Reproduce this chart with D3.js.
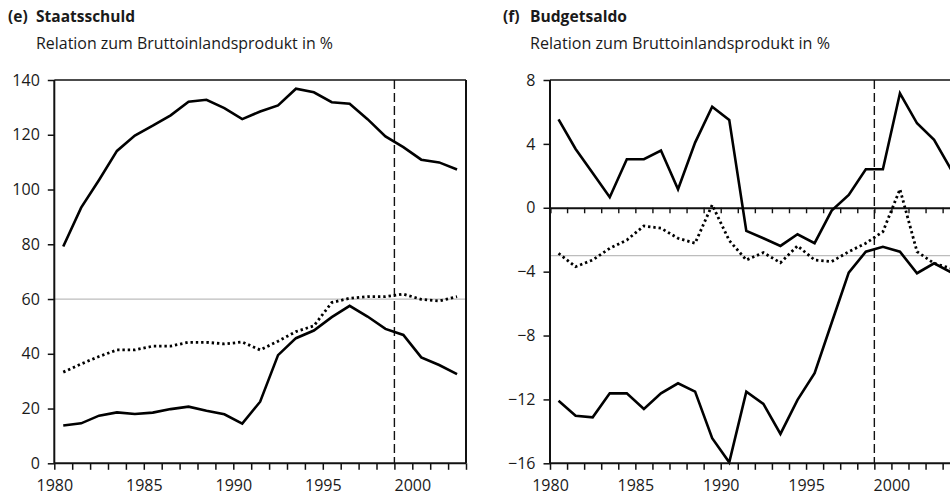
<!DOCTYPE html>
<html><head><meta charset="utf-8">
<script src="https://cdn.jsdelivr.net/npm/d3@7"></script>
<style>
html,body{margin:0;padding:0;background:#fff;}
svg{display:block;}
text{font-family:"Open Sans",sans-serif;fill:#1a1a1a;}
</style></head>
<body>
<svg id="c" width="950" height="502"></svg>
<script>
// ---------- data ----------
const yearsL = [1980,1981,1982,1983,1984,1985,1986,1987,1988,1989,1990,1991,1992,1993,1994,1995,1996,1997,1998,1999,2000,2001,2002];
const yearsR = [1980,1981,1982,1983,1984,1985,1986,1987,1988,1989,1990,1991,1992,1993,1994,1995,1996,1997,1998,1999,2000,2001,2002,2003];
const xTickLabels = [1980,1985,1990,1995,2000];
const yTicksL = [0,20,40,60,80,100,120,140];
const yTicksR = [-16,-12,-8,-4,0,4,8];

const debtHigh = [79.2,93.4,103.5,114.1,119.7,123.3,127.1,132.1,132.8,129.7,125.7,128.5,130.7,136.8,135.5,131.9,131.3,125.7,119.4,115.5,110.9,109.9,107.3];
const debtEuro = [33.3,36.3,39.0,41.4,41.4,42.8,42.8,44.2,44.2,43.6,44.3,41.4,44.6,48.1,50.2,58.7,60.3,60.9,60.9,61.8,59.9,59.3,60.9];
const debtLow  = [13.8,14.6,17.4,18.6,18.0,18.5,19.8,20.7,19.2,17.9,14.5,22.5,39.5,45.7,48.5,53.4,57.5,53.6,49.1,46.9,38.7,35.9,32.6];

const balHigh = [5.54,3.68,2.17,0.66,3.04,3.04,3.58,1.16,4.08,6.33,5.50,-1.45,-1.91,-2.39,-1.66,-2.22,-0.18,0.8,2.41,2.41,7.17,5.29,4.25,2.39];
const balEuro = [-2.85,-3.69,-3.27,-2.54,-2.02,-1.14,-1.28,-1.91,-2.22,0.18,-2.05,-3.27,-2.81,-3.44,-2.39,-3.27,-3.37,-2.75,-2.22,-1.5,1.16,-2.75,-3.48,-3.8];
const balLow  = [-12.08,-13.02,-13.12,-11.62,-11.62,-12.6,-11.62,-10.99,-11.51,-14.43,-15.94,-11.51,-12.28,-14.16,-12.03,-10.36,-7.2,-4.06,-2.75,-2.44,-2.75,-4.1,-3.48,-4.05];

const refLineL = 60;   // grey reference
const refLineR = -3;
const euroYear = 1999;

// ---------- drawing ----------
const svg = d3.select("#c");
const fmtMinus = v => (v < 0 ? "\u2212" + Math.abs(v) : String(v));

// fit a text element's font size so its width matches a target width
function fitText(sel, target){
  const base = parseFloat(sel.attr("font-size"));
  const w = sel.node().getComputedTextLength();
  if (w > 0) sel.attr("font-size", (base * target / w).toFixed(2));
  return parseFloat(sel.attr("font-size"));
}

function panel(opts){
  const {x, y, years, series, yTicks, ref, tag, title, tx, nx, zeroLine, rightBorder, titleW, subW} = opts;
  const g = svg.append("g");
  const [x0, x1] = x.range();
  const [yb, yt] = y.range();

  // titles
  const t1 = g.append("text").attr("x", nx).attr("y", 22).attr("font-size", 15).attr("font-weight", 700).text(title);
  const fs = fitText(t1, titleW);
  g.append("text").attr("x", tx).attr("y", 22).attr("font-size", fs).attr("font-weight", 700).text(tag);
  const t2 = g.append("text").attr("x", nx).attr("y", 49).attr("font-size", 15).text("Relation zum Bruttoinlandsprodukt in %");
  fitText(t2, subW);

  // grey reference line
  g.append("line").attr("x1", x0).attr("x2", x1).attr("y1", y(ref)).attr("y2", y(ref))
    .attr("stroke", "#bdbdbd").attr("stroke-width", 1.2);

  // dashed euro line
  g.append("line").attr("x1", x(euroYear)).attr("x2", x(euroYear)).attr("y1", yt).attr("y2", yb)
    .attr("stroke", "#111").attr("stroke-width", 1.4).attr("stroke-dasharray", "9,4");

  // frame top / right
  g.append("line").attr("x1", x0).attr("x2", x1).attr("y1", yt).attr("y2", yt).attr("stroke", "#111").attr("stroke-width", 1.5);
  if (rightBorder) g.append("line").attr("x1", x1).attr("x2", x1).attr("y1", yt).attr("y2", yb).attr("stroke", "#111").attr("stroke-width", 2);

  // zero line with ticks
  if (zeroLine) {
    const zg = g.append("g").attr("transform", `translate(0,${y(0)})`)
      .call(d3.axisBottom(x).tickValues(d3.range(x.domain()[0], x.domain()[1] + 1)).tickSize(5.5).tickFormat(""));
    zg.select(".domain").attr("stroke", "#111").attr("stroke-width", 2);
    zg.selectAll(".tick line").attr("stroke", "#111").attr("stroke-width", 1.4);
  }

  // lines
  const line = d3.line().x((d, i) => x(years[i] + 0.5)).y(d => y(d));
  series.forEach(s => {
    g.append("path").datum(s.values).attr("d", line).attr("fill", "none")
      .attr("stroke", "#000").attr("stroke-width", s.dotted ? 2.8 : 2.6)
      .attr("stroke-dasharray", s.dotted ? "2.4,2.9" : null)
      .attr("stroke-linejoin", "miter");
  });

  // y axis
  const ya = g.append("g").attr("transform", `translate(${x0},0)`)
    .call(d3.axisLeft(y).tickValues(yTicks).tickSize(6.5).tickPadding(8).tickFormat(fmtMinus));
  ya.select(".domain").attr("stroke", "#111").attr("stroke-width", 2).attr("d", `M0,${yb}V${yt}`);
  ya.selectAll(".tick line").attr("stroke", "#111").attr("stroke-width", 1.5);
  ya.selectAll("text").attr("font-family", "Open Sans, sans-serif").attr("font-size", 16).attr("fill", "#1a1a1a");

  // x axis
  const xa = g.append("g").attr("transform", `translate(0,${yb})`)
    .call(d3.axisBottom(x).tickValues(d3.range(x.domain()[0], x.domain()[1] + 1)).tickSize(6.5).tickPadding(10)
      .tickFormat(d => xTickLabels.includes(d) ? String(d) : ""));
  xa.select(".domain").attr("stroke", "#111").attr("stroke-width", 2).attr("d", `M${x0},0H${x1}`);
  xa.selectAll(".tick line").attr("stroke", "#111").attr("stroke-width", 1.5);
  xa.selectAll("text").attr("font-family", "Open Sans, sans-serif").attr("font-size", 16).attr("fill", "#1a1a1a");
}

const xL = d3.scaleLinear().domain([1980, 2003]).range([54.3, 466]);
const yL = d3.scaleLinear().domain([0, 140]).range([463.3, 80]);
const xR = d3.scaleLinear().domain([1980, 2004]).range([550, 959.7]);
const yR = d3.scaleLinear().domain([-16, 8]).range([463.3, 80]);

panel({x: xL, y: yL, years: yearsL, yTicks: yTicksL, ref: refLineL, tag: "(e)", title: "Staatsschuld", tx: 8, nx: 36,
  titleW: 99, subW: 297,
  rightBorder: true, zeroLine: false,
  series: [{values: debtHigh}, {values: debtEuro, dotted: true}, {values: debtLow}]});
panel({x: xR, y: yR, years: yearsR, yTicks: yTicksR, ref: refLineR, tag: "(f)", title: "Budgetsaldo", tx: 503, nx: 530,
  titleW: 97, subW: 300,
  rightBorder: true, zeroLine: true,
  series: [{values: balHigh}, {values: balEuro, dotted: true}, {values: balLow}]});
</script>
</body></html>
